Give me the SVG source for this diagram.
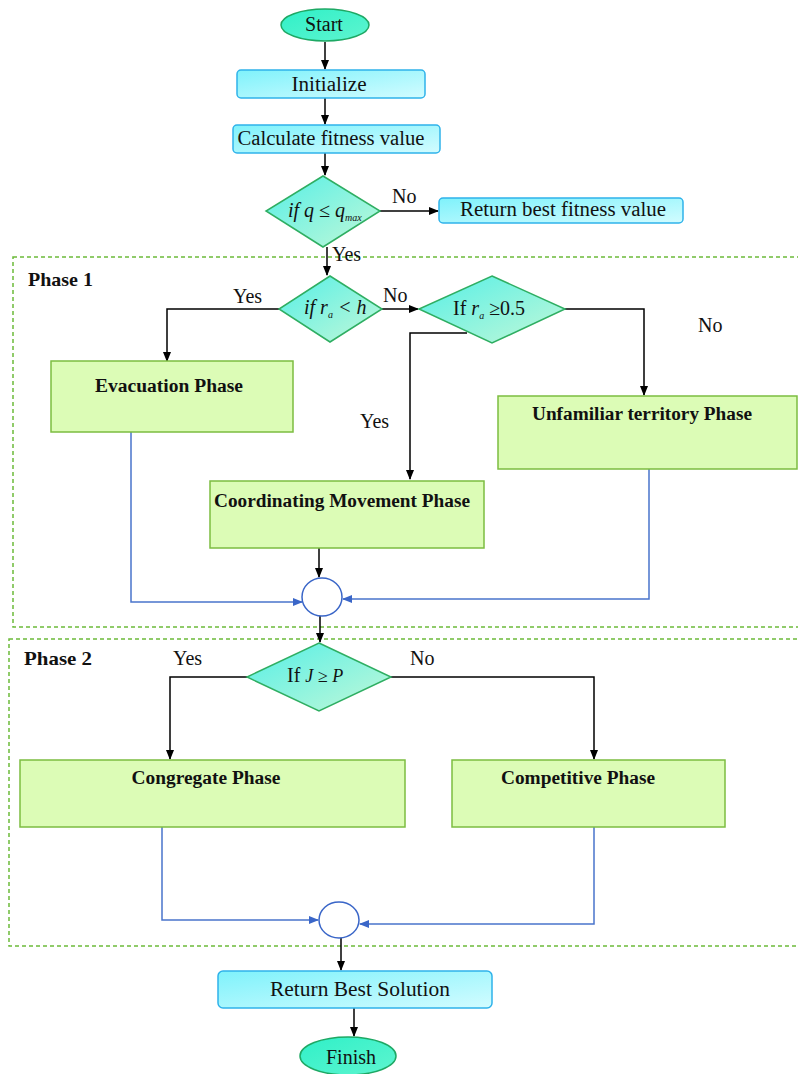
<svg xmlns="http://www.w3.org/2000/svg" width="798" height="1074" viewBox="0 0 798 1074">
<defs>
<linearGradient id="gCyan" x1="0" y1="0" x2="1" y2="1"><stop offset="0" stop-color="#7ff2fb"/><stop offset="1" stop-color="#d2fcff"/></linearGradient>
<linearGradient id="gDia" x1="0" y1="0" x2="1" y2="1"><stop offset="0" stop-color="#55efe6"/><stop offset="1" stop-color="#c2f8d8"/></linearGradient>
<linearGradient id="gEll" x1="0" y1="0" x2="1" y2="1"><stop offset="0" stop-color="#2ff0c8"/><stop offset="1" stop-color="#5ff5cf"/></linearGradient>
<marker id="ak" markerWidth="10" markerHeight="10" refX="9" refY="5" orient="auto" markerUnits="userSpaceOnUse"><path d="M0,1 L10,5 L0,9 Z" fill="#000"/></marker>
<marker id="ab" markerWidth="10" markerHeight="10" refX="9" refY="5" orient="auto" markerUnits="userSpaceOnUse"><path d="M0,1 L10,5 L0,9 Z" fill="#3a66c8"/></marker>
</defs>
<style>
text{font-family:"Liberation Serif","Times New Roman",serif;fill:#111}
.t{font-size:20px}
.b{font-size:18px;font-weight:bold}
.l{font-size:20px}
.i{font-style:italic}
.cyan{fill:url(#gCyan);stroke:#2fb2ea;stroke-width:1.5}
.grn{fill:#dcfcb6;stroke:#7cbd40;stroke-width:1.5}
.dia{fill:url(#gDia);stroke:#2fae62;stroke-width:1.5}
.ell{fill:url(#gEll);stroke:#1ea864;stroke-width:1.5}
.k{fill:none;stroke:#000;stroke-width:1.5}
.bl{fill:none;stroke:#4a74cc;stroke-width:1.5}
.dash{fill:none;stroke:#6cbb3a;stroke-width:1.5;stroke-dasharray:4 3}
</style>
<rect width="798" height="1074" fill="#fff"/>
<g id="phase1-frame"><rect class="dash" x="13" y="257" width="800" height="370"/><text class="b" x="28" y="286" style="font-size:19px" textLength="65" lengthAdjust="spacingAndGlyphs">Phase 1</text></g>
<g id="phase2-frame"><rect class="dash" x="9" y="639" width="800" height="307"/><text class="b" x="24" y="665" style="font-size:19px" textLength="68" lengthAdjust="spacingAndGlyphs">Phase 2</text></g>

<g id="connectors">
<path class="k" d="M325,42 V69" marker-end="url(#ak)"/>
<path class="k" d="M325,98 V124" marker-end="url(#ak)"/>
<path class="k" d="M325,153 V175" marker-end="url(#ak)"/>
<path class="k" d="M380,211 H438" marker-end="url(#ak)"/>
<path class="k" d="M327,247 V275" marker-end="url(#ak)"/>
<path class="k" d="M279,309 H167 V361" marker-end="url(#ak)"/>
<path class="k" d="M382,309 H418" marker-end="url(#ak)"/>
<path class="k" d="M565,309 H644 V395" marker-end="url(#ak)"/>
<path class="k" d="M467,333 H410 V479" marker-end="url(#ak)"/>
<path class="k" d="M319,548 V577" marker-end="url(#ak)"/>
<path class="bl" d="M131,432 V602 H302" marker-end="url(#ab)"/>
<path class="bl" d="M649,469 V599 H343" marker-end="url(#ab)"/>
<path class="k" d="M320,616 V642" marker-end="url(#ak)"/>
<path class="k" d="M247,677 H170 V759" marker-end="url(#ak)"/>
<path class="k" d="M391,677 H594 V759" marker-end="url(#ak)"/>
<path class="bl" d="M162,827 V920 H318" marker-end="url(#ab)"/>
<path class="bl" d="M594,827 V924 H360" marker-end="url(#ab)"/>
<path class="k" d="M341,938 V970" marker-end="url(#ak)"/>
<path class="k" d="M354,1008 V1036" marker-end="url(#ak)"/>
<text class="l" x="392" y="203">No</text>
<text class="l" x="332" y="261">Yes</text>
<text class="l" x="233" y="303">Yes</text>
<text class="l" x="383" y="302">No</text>
<text class="l" x="698" y="332">No</text>
<text class="l" x="360" y="428">Yes</text>
<text class="l" x="173" y="665">Yes</text>
<text class="l" x="410" y="665">No</text>
</g>

<g id="start"><ellipse class="ell" cx="325" cy="25" rx="44" ry="16"/><text class="t" x="324" y="31" text-anchor="middle">Start</text></g>
<g id="initialize"><rect class="cyan" x="237" y="70" width="188" height="28" rx="4"/><text class="t" x="329" y="91" text-anchor="middle" textLength="75" lengthAdjust="spacingAndGlyphs">Initialize</text></g>
<g id="calculate"><rect class="cyan" x="233" y="125" width="207" height="28" rx="4"/><text class="t" x="331" y="145" text-anchor="middle" textLength="187" lengthAdjust="spacingAndGlyphs">Calculate fitness value</text></g>
<g id="cond-q"><path class="dia" d="M323,176 L380,211 L323,247 L266,211 Z"/><text class="t i" x="288" y="217">if q ≤ q<tspan font-size="10" dy="4">max</tspan></text></g>
<g id="return-fitness"><rect class="cyan" x="439" y="198" width="244" height="25" rx="4"/><text class="t" x="563" y="216" text-anchor="middle" textLength="206" lengthAdjust="spacingAndGlyphs">Return best fitness value</text></g>
<g id="cond-h"><path class="dia" d="M330,276 L382,309 L330,342 L279,309 Z"/><text class="t i" x="304" y="314">if r<tspan font-size="10" dy="4">a</tspan><tspan dy="-4"> &lt; h</tspan></text></g>
<g id="cond-05"><path class="dia" d="M492,276 L565,309 L492,343 L419,309 Z"/><text class="t" x="453" y="315">If <tspan class="i">r</tspan><tspan font-size="10" dy="4" class="i">a</tspan><tspan dy="-4"> ≥0.5</tspan></text></g>
<g id="evacuation"><rect class="grn" x="51" y="361" width="242" height="71"/><text class="b" x="169" y="392" text-anchor="middle" textLength="148" lengthAdjust="spacingAndGlyphs">Evacuation Phase</text></g>
<g id="unfamiliar"><rect class="grn" x="498" y="396" width="299" height="73"/><text class="b" x="642" y="420" text-anchor="middle" textLength="220" lengthAdjust="spacingAndGlyphs">Unfamiliar territory Phase</text></g>
<g id="coordinating"><rect class="grn" x="210" y="481" width="274" height="67"/><text class="b" x="214" y="507" textLength="256" lengthAdjust="spacingAndGlyphs">Coordinating Movement Phase</text></g>
<g id="join1"><ellipse cx="322" cy="597" rx="20" ry="19" fill="#fff" stroke="#3a66c8" stroke-width="1.5"/></g>
<g id="cond-jp"><path class="dia" d="M319,643 L391,677 L319,711 L247,677 Z"/><text class="t" x="287" y="682">If <tspan class="i" font-size="18">J ≥ P</tspan></text></g>
<g id="congregate"><rect class="grn" x="20" y="760" width="385" height="67"/><text class="b" x="206" y="784" text-anchor="middle" textLength="149" lengthAdjust="spacingAndGlyphs">Congregate Phase</text></g>
<g id="competitive"><rect class="grn" x="452" y="760" width="273" height="67"/><text class="b" x="578" y="784" text-anchor="middle" textLength="154" lengthAdjust="spacingAndGlyphs">Competitive Phase</text></g>
<g id="join2"><ellipse cx="339" cy="920" rx="20" ry="18" fill="#fff" stroke="#3a66c8" stroke-width="1.5"/></g>
<g id="return-best"><rect class="cyan" x="218" y="971" width="274" height="37" rx="5"/><text class="t" x="360" y="996" text-anchor="middle" textLength="180" lengthAdjust="spacingAndGlyphs">Return  Best Solution</text></g>
<g id="finish"><ellipse class="ell" cx="348" cy="1056" rx="48" ry="19"/><text class="t" x="351" y="1064" text-anchor="middle">Finish</text></g>
</svg>
